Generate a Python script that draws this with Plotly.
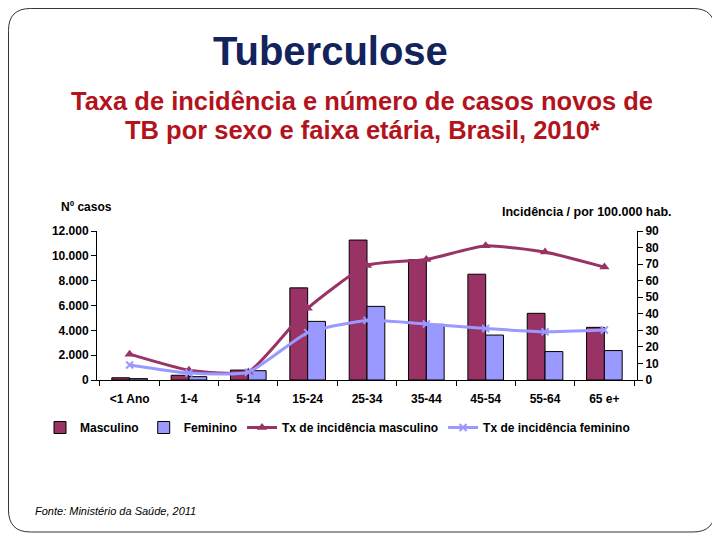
import plotly.graph_objects as go

categories = ["<1 Ano", "1-4", "5-14", "15-24", "25-34", "35-44", "45-54", "55-64", "65 e+"]
casos_masculino = [180, 380, 800, 7420, 11270, 9680, 8520, 5370, 4240]
casos_feminino = [110, 270, 750, 4720, 5930, 4480, 3620, 2290, 2370]
tx_masculino = [15.6, 5.9, 4.9, 43.3, 69.2, 72.8, 81.1, 77.3, 68.2]
tx_feminino = [9.1, 4.2, 4.7, 28.6, 36.0, 33.8, 31.1, 29.1, 30.2]

left_tickvals = [0, 2000, 4000, 6000, 8000, 10000, 12000]
left_ticktext = ["0", "2.000", "4.000", "6.000", "8.000", "10.000", "12.000"]
right_tickvals = [0, 10, 20, 30, 40, 50, 60, 70, 80, 90]

OFF = 8  # page body margin
W, H = 720 - OFF, 540 - OFF
L, R, T, B = 97 - OFF, 637 - OFF, 231 - OFF, 380 - OFF


def px(x, y):
    x -= OFF
    y -= OFF
    return (x - L) / (R - L), (B - y) / (B - T)


C_MASC = "#993366"
C_FEM = "#9999FF"
FONT = "Liberation Sans, Arial, sans-serif"

fig = go.Figure()
fig.add_trace(go.Bar(name="Masculino", x=categories, y=casos_masculino,
                     marker=dict(color=C_MASC, line=dict(color="#000000", width=1))))
fig.add_trace(go.Bar(name="Feminino", x=categories, y=casos_feminino,
                     marker=dict(color=C_FEM, line=dict(color="#000000", width=1))))
fig.add_trace(go.Scatter(name="Tx de incidência masculino", x=categories, y=tx_masculino,
                         yaxis="y2", mode="lines+markers",
                         line=dict(color=C_MASC, width=3, shape="spline", smoothing=0.5),
                         marker=dict(symbol="triangle-up", size=9, color=C_MASC)))
fig.add_trace(go.Scatter(name="Tx de incidência feminino", x=categories, y=tx_feminino,
                         yaxis="y2", mode="lines+markers",
                         line=dict(color=C_FEM, width=3, shape="spline", smoothing=0.5),
                         marker=dict(symbol="x-thin", size=7, color=C_FEM,
                                     line=dict(color=C_FEM, width=2))))

# slide border (rounded rectangle)
x0, y0, x1, y1, r = 8.5, 8.5, 715, 532, 22


def P(x, y):
    a, b = px(x, y)
    return f"{a:.5f},{b:.5f}"


path = (f"M {P(x0 + r, y0)} L {P(x1 - r, y0)} Q {P(x1, y0)} {P(x1, y0 + r)} "
        f"L {P(x1, y1 - r)} Q {P(x1, y1)} {P(x1 - r, y1)} "
        f"L {P(x0 + r, y1)} Q {P(x0, y1)} {P(x0, y1 - r)} "
        f"L {P(x0, y0 + r)} Q {P(x0, y0)} {P(x0 + r, y0)} Z")
fig.add_shape(type="path", path=path, xref="paper", yref="paper",
              line=dict(color="#333333", width=1), layer="below")


def ann(text, x, y, size, color="#000000", xanchor="center", bold=True, italic=False):
    a, b = px(x, y)
    t = text
    if bold:
        t = f"<b>{t}</b>"
    if italic:
        t = f"<i>{t}</i>"
    fig.add_annotation(text=t, x=a, y=b, xref="paper", yref="paper", showarrow=False,
                       xanchor=xanchor, yanchor="middle",
                       font=dict(family=FONT, size=size, color=color))


ann("Tuberculose", 330, 51, 40, "#13235C")
ann("Taxa de incidência e número de casos novos de", 362, 101, 25.5, "#B3131C")
ann("TB por sexo e faixa etária, Brasil, 2010*", 362, 130, 25.5, "#B3131C")
ann("Nº casos", 59, 207, 12, xanchor="left")
ann("Incidência / por 100.000 hab.", 674, 212, 12.5, xanchor="right")
ann("Fonte: Ministério da Saúde, 2011", 33, 511, 11, xanchor="left", bold=False, italic=True)

lx, ly = px(40, 413)
TICKFONT = dict(family=FONT, size=12, color="#000000", weight="bold")
fig.update_layout(
    width=W, height=H,
    margin=dict(l=L, r=W - R, t=T, b=H - B, pad=0),
    paper_bgcolor="white", plot_bgcolor="white",
    barmode="group", bargap=0.4, bargroupgap=0,
    font=dict(family=FONT, size=11, color="#000000"),
    showlegend=True,
    legend=dict(orientation="h", x=lx, y=ly, xanchor="left", yanchor="top",
                font=dict(family=FONT, size=12, color="#000000", weight="bold"),
                itemwidth=30, tracegroupgap=0, bgcolor="rgba(0,0,0,0)"),
    xaxis=dict(type="category", showline=True, linecolor="#000000", linewidth=1,
               ticks="outside", tickson="boundaries", ticklen=5, tickcolor="#000000",
               showgrid=False, ticklabelstandoff=8, tickfont=TICKFONT),
    yaxis=dict(range=[0, 12000], tickvals=left_tickvals, ticktext=left_ticktext,
               showline=True, linecolor="#000000", linewidth=1, ticks="outside",
               ticklen=5, tickcolor="#000000", showgrid=False, zeroline=False,
               tickfont=TICKFONT),
    yaxis2=dict(range=[0, 90], tickvals=right_tickvals, overlaying="y", side="right",
                showline=True, linecolor="#000000", linewidth=1, ticks="outside",
                ticklen=5, tickcolor="#000000", showgrid=False, zeroline=False,
                tickfont=TICKFONT),
)

fig.write_html("out.html")
